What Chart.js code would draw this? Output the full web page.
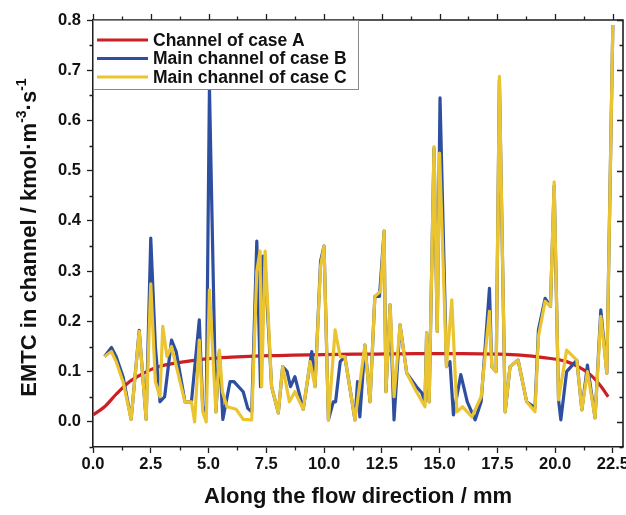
<!DOCTYPE html>
<html><head><meta charset="utf-8">
<script src="https://cdn.jsdelivr.net/npm/chart.js@4.4.1/dist/chart.umd.min.js"></script>
<style>html,body{margin:0;padding:0;background:#fff;}canvas{display:block;}</style>
</head><body>
<canvas id="c" width="626" height="515"></canvas>
<script>
const FONT = '"Liberation Sans", Arial, Helvetica, sans-serif';
const seriesLabels = ['Channel of case A', 'Main channel of case B', 'Main channel of case C'];
const seriesColors = ['#cc1f24', '#2e4f9f', '#ebc431'];

const xTicks = [0, 2.5, 5, 7.5, 10, 12.5, 15, 17.5, 20, 22.5];
const yTicks = [0, 0.1, 0.2, 0.3, 0.4, 0.5, 0.6, 0.7, 0.8];

const xA = [0,0.5,1,1.5,2,2.5,3,4,5,6,7,8,10,12,14,16,17.5,18.5,19.5,20.5,21,21.5,22,22.3];
const yA = [0.014,0.03,0.055,0.077,0.092,0.104,0.112,0.12,0.126,0.129,0.131,0.132,0.134,0.135,0.136,0.136,0.135,0.133,0.128,0.12,0.11,0.095,0.07,0.05];

const xB = [0.5,0.8,1.0,1.3,1.65,2.0,2.3,2.5,2.7,2.9,
 3.1,3.4,3.6,3.98,4.26,4.6,4.75,4.9,5.04,5.32,
 5.47,5.62,5.93,6.1,6.5,6.7,6.87,7.09,7.25,7.35,
 7.45,7.73,8.02,8.21,8.4,8.55,8.74,9.1,9.47,9.61,
 9.85,10.0,10.19,10.4,10.5,10.7,10.9,11.34,11.45,11.55,
 11.77,11.99,12.2,12.4,12.6,12.68,12.86,13.03,13.29,13.58,
 14.0,14.23,14.37,14.44,14.55,14.76,14.9,15.02,15.3,15.45,
 15.6,15.92,16.2,16.54,16.8,17.16,17.26,17.45,17.59,17.84,
 18.05,18.4,18.77,19.13,19.28,19.57,19.8,19.96,20.15,20.25,
 20.5,20.94,21.16,21.4,21.73,21.98,22.24,22.5];
const yB = [0.13,0.148,0.13,0.09,0.005,0.182,0.005,0.366,0.15,0.04,
 0.05,0.163,0.14,0.04,0.04,0.203,0.03,0.02,0.665,0.02,
 0.14,0.005,0.08,0.08,0.06,0.027,0.02,0.36,0.07,0.33,
 0.31,0.07,0.018,0.11,0.1,0.07,0.09,0.025,0.14,0.07,
 0.32,0.35,0.004,0.04,0.04,0.12,0.13,0.004,0.08,0.01,
 0.153,0.04,0.25,0.25,0.38,0.06,0.233,0.004,0.193,0.097,
 0.07,0.058,0.04,0.177,0.04,0.545,0.18,0.645,0.11,0.12,
 0.014,0.094,0.04,0.004,0.04,0.266,0.11,0.1,0.68,0.02,
 0.11,0.123,0.04,0.028,0.183,0.246,0.23,0.47,0.044,0.004,
 0.1,0.123,0.024,0.113,0.008,0.223,0.097,0.79];

const xC = [0.5,0.8,1.0,1.3,1.65,2.0,2.3,2.5,2.7,2.9,
 3.02,3.2,3.4,3.98,4.26,4.4,4.6,4.75,4.9,5.04,
 5.32,5.47,5.6,5.8,6.2,6.5,6.87,7.09,7.23,7.3,
 7.45,7.73,8.02,8.21,8.5,8.74,9.1,9.4,9.61,9.85,
 10.0,10.19,10.48,10.7,10.9,11.34,11.77,11.99,12.2,12.45,
 12.6,12.68,12.86,13.03,13.29,13.58,14.0,14.37,14.44,14.55,
 14.76,14.9,15.0,15.3,15.53,15.75,16.0,16.4,16.8,17.16,
 17.26,17.45,17.59,17.84,18.05,18.4,18.77,19.13,19.28,19.57,
 19.8,19.96,20.15,20.5,20.94,21.16,21.4,21.73,21.98,22.24,
 22.5];
const yC = [0.13,0.14,0.12,0.08,0.005,0.18,0.005,0.275,0.08,0.05,
 0.19,0.13,0.15,0.04,0.04,0.0,0.163,0.02,0.0,0.263,
 0.02,0.143,0.06,0.03,0.025,0.005,0.004,0.30,0.34,0.07,
 0.34,0.07,0.018,0.11,0.04,0.06,0.025,0.12,0.07,0.31,
 0.35,0.004,0.183,0.13,0.13,0.004,0.153,0.04,0.25,0.26,
 0.38,0.06,0.233,0.05,0.193,0.097,0.06,0.03,0.177,0.04,
 0.548,0.18,0.535,0.11,0.243,0.02,0.03,0.01,0.05,0.22,
 0.11,0.1,0.688,0.02,0.11,0.123,0.04,0.02,0.17,0.24,
 0.23,0.478,0.044,0.143,0.123,0.024,0.1,0.008,0.21,0.097,
 0.79];

const pts = (xs, ys) => xs.map((x, i) => ({x: x, y: ys[i]}));

const AX = '#1e1e1e';

const decor = {
  id: 'decor',
  afterDraw(chart) {
    const {ctx, chartArea: a, scales: {x, y}} = chart;
    ctx.save();
    ctx.strokeStyle = AX; ctx.lineWidth = 1.6;
    ctx.beginPath();
    ctx.moveTo(a.left, a.top); ctx.lineTo(a.right, a.top); ctx.lineTo(a.right, a.bottom);
    ctx.stroke();
    ctx.lineWidth = 1.3;
    ctx.beginPath();
    xTicks.forEach(v => { const p = Math.round(x.getPixelForValue(v)) + 0.5; ctx.moveTo(p, a.top); ctx.lineTo(p, a.top - 6); });
    xTicks.forEach(v => {
      const m = v + 1.25; if (m > x.max) return;
      const p = Math.round(x.getPixelForValue(m)) + 0.5;
      ctx.moveTo(p, a.bottom); ctx.lineTo(p, a.bottom + 3.5);
      ctx.moveTo(p, a.top); ctx.lineTo(p, a.top - 3.5);
    });
    yTicks.forEach(v => {
      const p = Math.round(y.getPixelForValue(v)) + 0.5;
      ctx.moveTo(a.right, p); ctx.lineTo(a.right - 6, p);
      const m = v - 0.05; const q = Math.round(y.getPixelForValue(m)) + 0.5;
      ctx.moveTo(a.left, q); ctx.lineTo(a.left - 3.5, q);
      ctx.moveTo(a.right, q); ctx.lineTo(a.right - 3.5, q);
    });
    { const q = Math.round(y.getPixelForValue(0.75)) + 0.5;
      ctx.moveTo(a.left, q); ctx.lineTo(a.left - 3.5, q);
      ctx.moveTo(a.right, q); ctx.lineTo(a.right - 3.5, q); }
    ctx.stroke();

    // legend
    const lx = a.left, ly = a.top, lw = 265, lh = 69;
    ctx.fillStyle = '#fff';
    ctx.fillRect(lx, ly, lw, lh);
    ctx.strokeStyle = '#8a8a8a'; ctx.lineWidth = 1;
    ctx.strokeRect(lx + 0.5, ly + 0.5, lw, lh);
    ctx.font = 'bold 17.5px ' + FONT;
    ctx.textBaseline = 'middle'; ctx.textAlign = 'left';
    const rows = [40, 58.5, 77];
    chart.data.datasets.forEach((ds, i) => {
      const r = rows[i];
      ctx.strokeStyle = ds.borderColor; ctx.lineWidth = 3;
      ctx.beginPath(); ctx.moveTo(lx + 4, r); ctx.lineTo(lx + 55, r); ctx.stroke();
      ctx.fillStyle = '#111';
      ctx.fillText(ds.label, lx + 60, r + 1);
    });

    // y-axis title with superscripts
    ctx.translate(30, (a.top + a.bottom) / 2 + 4);
    ctx.rotate(-Math.PI / 2);
    const big = 'bold 22px ' + FONT, small = 'bold 14px ' + FONT;
    const parts = [['EMTC in channel / kmol\u00b7m', big, 0], ['-3', small, -8], ['\u00b7s', big, 0], ['-1', small, -8]];
    let total = 0;
    parts.forEach(p => { ctx.font = p[1]; total += ctx.measureText(p[0]).width; });
    let cx = -total / 2;
    ctx.fillStyle = '#111'; ctx.textAlign = 'left'; ctx.textBaseline = 'middle';
    parts.forEach(p => { ctx.font = p[1]; ctx.fillText(p[0], cx, p[2]); cx += ctx.measureText(p[0]).width; });
    ctx.restore();
  }
};

new Chart(document.getElementById('c'), {
  type: 'line',
  data: {
    datasets: [
      { label: seriesLabels[0], data: pts(xA, yA), borderColor: seriesColors[0], borderWidth: 3.2, pointRadius: 0, cubicInterpolationMode: 'monotone', order: 3, fill: false },
      { label: seriesLabels[1], data: pts(xB, yB), borderColor: seriesColors[1], borderWidth: 3.2, pointRadius: 0, tension: 0, order: 2, fill: false, borderJoinStyle: 'round' },
      { label: seriesLabels[2], data: pts(xC, yC), borderColor: seriesColors[2], borderWidth: 3.2, pointRadius: 0, tension: 0, order: 1, fill: false, borderJoinStyle: 'round' }
    ]
  },
  options: {
    responsive: false, animation: false, devicePixelRatio: 1,
    layout: { padding: { left: 0, top: 20, right: 3, bottom: 0 } },
    plugins: { legend: { display: false }, tooltip: { enabled: false } },
    scales: {
      x: {
        type: 'linear', min: 0, max: 22.94,
        afterBuildTicks: s => { s.ticks = xTicks.map(v => ({value: v})); },
        afterFit: s => { s.height = 68; s.paddingLeft = 0; s.paddingRight = 0; },
        ticks: { font: { family: FONT, size: 16.5, weight: 'bold' }, color: '#111', padding: 2, maxRotation: 0, autoSkip: false, callback: v => Number(v).toFixed(1) },
        grid: { drawOnChartArea: false, drawTicks: true, tickLength: 6, tickWidth: 1.3, tickColor: AX },
        border: { display: true, color: AX, width: 1.6 },
        title: { display: true, text: 'Along the flow direction / mm', font: { family: FONT, size: 22, weight: 'bold' }, color: '#111', padding: { top: 0, bottom: 5 } }
      },
      y: {
        type: 'linear', min: -0.05, max: 0.8,
        afterBuildTicks: s => { s.ticks = yTicks.map(v => ({value: v})); },
        afterFit: s => { s.width = 93; s.paddingTop = 0; s.paddingBottom = 0; },
        ticks: { font: { family: FONT, size: 16.5, weight: 'bold' }, color: '#111', padding: 6, autoSkip: false, callback: v => Number(v).toFixed(1) },
        grid: { drawOnChartArea: false, drawTicks: true, tickLength: 6, tickWidth: 1.3, tickColor: AX },
        border: { display: true, color: AX, width: 1.6 }
      }
    }
  },
  plugins: [decor]
});
</script>
</body></html>
